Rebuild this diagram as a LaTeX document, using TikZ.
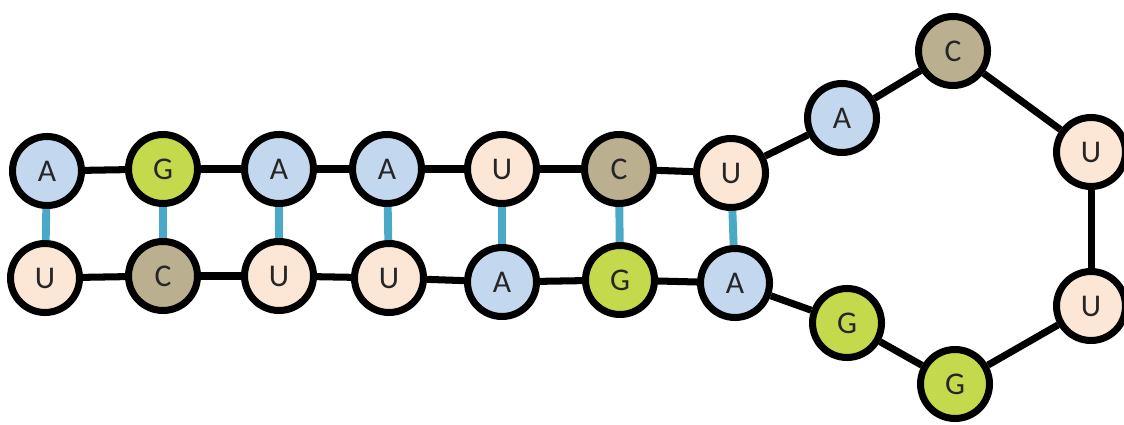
\documentclass[tikz,border=0pt]{standalone}
\usepackage{fontspec}
\setmainfont{Carlito}
\definecolor{cA}{HTML}{C3D8EF}
\definecolor{cG}{HTML}{C5D94C}
\definecolor{cC}{HTML}{BAAF8E}
\definecolor{cU}{HTML}{FCE6D6}
\definecolor{pair}{HTML}{4BA9C8}
\begin{document}
\begin{tikzpicture}[x=0.02cm,y=-0.02cm,
  base/.style={circle,draw=black,line width=4pt,minimum size=1.38cm,inner sep=0pt,font=\fontsize{18}{18}\selectfont,text=black!85},
  nA/.style={base,fill=cA}, nG/.style={base,fill=cG}, nC/.style={base,fill=cC}, nU/.style={base,fill=cU},
  link/.style={line width=4pt,black},
  bond/.style={line width=4.5pt,pair}]
\useasboundingbox (0,0) rectangle (1124,425);
\node[nA] (t1) at (47,171) {A};
\node[nG] (t2) at (163,169) {G};
\node[nA] (t3) at (279,169) {A};
\node[nA] (t4) at (387,169) {A};
\node[nU] (t5) at (502,169) {U};
\node[nC] (t6) at (619,169) {C};
\node[nU] (t7) at (731,173) {U};
\node[nU] (b1) at (45,278) {U};
\node[nC] (b2) at (163,276) {C};
\node[nU] (b3) at (279,276) {U};
\node[nU] (b4) at (389,278) {U};
\node[nA] (b5) at (502,282) {A};
\node[nG] (b6) at (620,280) {G};
\node[nA] (b7) at (735,283) {A};
\node[nA] (l1) at (842,118) {A};
\node[nC] (l2) at (953,51) {C};
\node[nU] (l3) at (1091,152) {U};
\node[nU] (l4) at (1091,306) {U};
\node[nG] (l5) at (955,384) {G};
\node[nG] (l6) at (847,323) {G};
\draw[link] (t1) -- (t2); \draw[link] (t2) -- (t3); \draw[link] (t3) -- (t4);
\draw[link] (t4) -- (t5); \draw[link] (t5) -- (t6); \draw[link] (t6) -- (t7);
\draw[link] (t7) -- (l1); \draw[link] (l1) -- (l2); \draw[link] (l2) -- (l3);
\draw[link] (l3) -- (l4); \draw[link] (l4) -- (l5); \draw[link] (l5) -- (l6);
\draw[link] (l6) -- (b7);
\draw[link] (b1) -- (b2); \draw[link] (b2) -- (b3); \draw[link] (b3) -- (b4);
\draw[link] (b4) -- (b5); \draw[link] (b5) -- (b6); \draw[link] (b6) -- (b7);
\foreach \i in {1,...,7} {\draw[bond] (t\i) -- (b\i);}
\end{tikzpicture}
\end{document}
